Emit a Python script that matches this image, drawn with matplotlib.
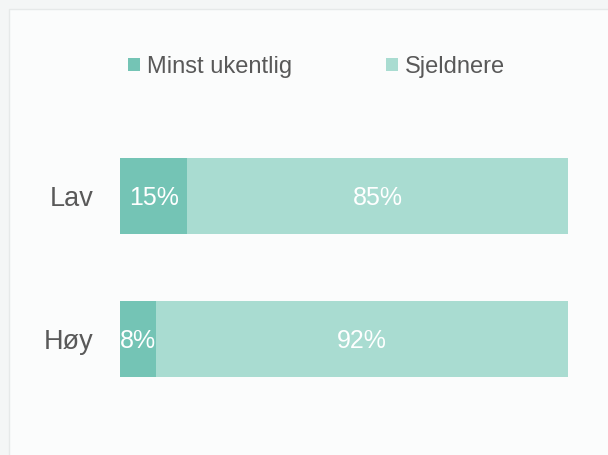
import matplotlib.pyplot as plt
from matplotlib.patches import Rectangle

groups = ["Lav", "Høy"]
weekly = [15, 8]
rarely = [85, 92]
series_names = ["Minst ukentlig", "Sjeldnere"]
colors = ["#74c4b5", "#a9dcd1"]

plt.rcParams['font.family'] = ['Liberation Sans', 'DejaVu Sans']

fig = plt.figure(figsize=(6.08, 4.55), dpi=100)
fig.patch.set_facecolor("#f4f6f6")
# white-ish panel with a thin border
fig.patches.append(Rectangle((9 / 608, -0.01), 1.0, 1 - 9 / 455 + 0.01,
                             transform=fig.transFigure, facecolor="#fbfcfc",
                             edgecolor="#e6e9e9", linewidth=1.0, zorder=-1))

ax = fig.add_axes([120 / 608, 44.5 / 455, 448 / 608, 286 / 455])
ax.set_facecolor("none")

ypos = [1, 0]
h = 76 / 143
b1 = ax.barh(ypos, weekly, height=h, color=colors[0], label=series_names[0])
b2 = ax.barh(ypos, rarely, left=weekly, height=h, color=colors[1], label=series_names[1])

# percentage labels, baseline shifted so the digits sit centred in the bar
for y, w, r in zip(ypos, weekly, rarely):
    for xc, v in ((w / 2, w), (w + r / 2, r)):
        ax.annotate(f"{v}%", (xc, y), xytext=(0, -6.4), textcoords="offset points",
                    ha="center", va="baseline", color="white", fontsize=18)

ax.set_xlim(0, 100)
ax.set_ylim(-0.5, 1.5)
ax.set_yticks(ypos)
ax.set_yticklabels(groups, fontsize=19.5, color="#595959")
ax.tick_params(axis="y", length=0, pad=19)
ax.set_xticks([])
for s in ax.spines.values():
    s.set_visible(False)

leg = fig.legend(handles=[b1, b2], loc="center left", bbox_to_anchor=(128 / 608, 1 - 67 / 455),
                 ncol=2, frameon=False, fontsize=17, handlelength=0.5, handleheight=0.5,
                 handletextpad=0.3, columnspacing=4.0, labelcolor="#595959",
                 borderaxespad=0, borderpad=0)

fig.savefig("out.png", dpi=100, facecolor=fig.get_facecolor())
